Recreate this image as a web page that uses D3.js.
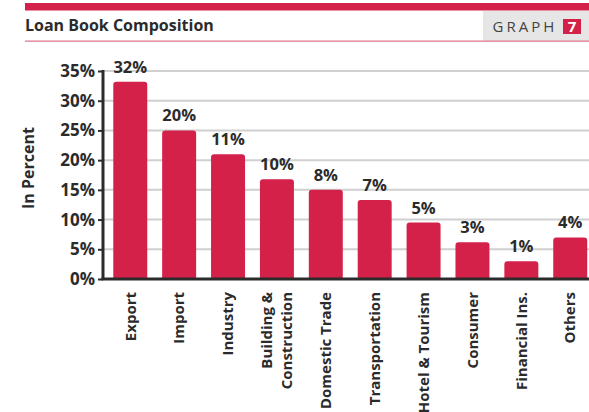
<!DOCTYPE html>
<html>
<head>
<meta charset="utf-8">
<script src="https://cdn.jsdelivr.net/npm/d3@7"></script>
<style>
  body { margin: 0; background: #fff; }
  svg { display: block; font-family: "Open Sans", "Noto Sans", sans-serif; }
</style>
</head>
<body>
<svg id="chart" width="589" height="412"></svg>
<script>
// ---- data ----
const categories = ["Export", "Import", "Industry", "Building & Construction", "Domestic Trade",
  "Transportation", "Hotel & Tourism", "Consumer", "Financial Ins.", "Others"];
const barValues = [33.2, 25.0, 21.0, 16.8, 15.0, 13.3, 9.5, 6.2, 3.0, 7.0];
const barLabels = ["32%", "20%", "11%", "10%", "8%", "7%", "5%", "3%", "1%", "4%"];
const yTicks = [0, 5, 10, 15, 20, 25, 30, 35];
const title = "Loan Book Composition";
const badgeText = "GRAPH";
const badgeNumber = "7";
const yAxisTitle = "In Percent";

// ---- layout ----
const svg = d3.select("#chart");
const red = "#d42149";
const textCol = "#2b2b2b";

// header
svg.append("rect").attr("x", 25).attr("y", 3).attr("width", 564).attr("height", 7.5).attr("fill", red);
svg.append("rect").attr("x", 483).attr("y", 11).attr("width", 106).attr("height", 30).attr("fill", "#e6e6e6");
svg.append("rect").attr("x", 25).attr("y", 40.5).attr("width", 564).attr("height", 1.3).attr("fill", "#e0798f");
svg.append("text").attr("x", 25).attr("y", 31).text(title)
  .attr("font-size", 16).attr("font-weight", 700).attr("fill", textCol);
svg.append("text").attr("x", 492.5).attr("y", 32).text(badgeText)
  .attr("font-size", 15).attr("letter-spacing", 3).attr("fill", "#444");
svg.append("rect").attr("x", 563).attr("y", 19).attr("width", 18).attr("height", 15).attr("fill", red);
svg.append("text").attr("x", 572).attr("y", 32).attr("text-anchor", "middle").text(badgeNumber)
  .attr("font-size", 15).attr("font-weight", 700).attr("fill", "#fff");

// scales
const y = d3.scaleLinear().domain([0, 35]).range([279, 71]);
const x = d3.scaleBand().domain(categories).range([103.5, 597]).paddingInner(0.305).paddingOuter(0.2);

// gridlines
svg.append("g").selectAll("line").data(yTicks.filter(d => d > 0)).join("line")
  .attr("x1", 103).attr("x2", 589)
  .attr("y1", d => y(d)).attr("y2", d => y(d))
  .attr("stroke", "#d0d0d0").attr("stroke-width", 2);

// bars with rounded top
svg.append("g").selectAll("path").data(barValues).join("path")
  .attr("d", (d, i) => {
    const x0 = x(categories[i]), w = x.bandwidth(), y0 = y(d), yb = y(0), r = 3;
    return `M${x0},${yb}V${y0 + r}Q${x0},${y0} ${x0 + r},${y0}H${x0 + w - r}Q${x0 + w},${y0} ${x0 + w},${y0 + r}V${yb}Z`;
  })
  .attr("fill", red);

// value labels
svg.append("g").selectAll("text").data(barValues).join("text")
  .attr("x", (d, i) => x(categories[i]) + x.bandwidth() / 2)
  .attr("y", d => y(d) - 9)
  .attr("text-anchor", "middle")
  .attr("font-size", 16.5).attr("font-weight", 700).attr("fill", textCol)
  .text((d, i) => barLabels[i]);

// y axis
const yAxis = d3.axisLeft(y).tickValues(yTicks).tickFormat(d => d + "%").tickSize(5).tickPadding(3);
const yg = svg.append("g").attr("transform", "translate(103,0)").call(yAxis);
yg.select(".domain").attr("stroke", textCol).attr("stroke-width", 3).attr("d", "M0,70V279");
yg.selectAll(".tick line").attr("stroke", textCol).attr("stroke-width", 2);
yg.selectAll(".tick text").attr("font-size", 17).attr("font-weight", 700).attr("fill", textCol)
  .attr("font-family", "\"Open Sans\", sans-serif");

// x axis baseline
svg.append("line").attr("x1", 101.5).attr("x2", 589).attr("y1", 279).attr("y2", 279)
  .attr("stroke", textCol).attr("stroke-width", 3);

// x labels (rotated)
const xl = svg.append("g").selectAll("text").data(categories).join("text")
  .attr("transform", d => `translate(${x(d) + x.bandwidth() / 2},292) rotate(-90)`)
  .attr("text-anchor", "end")
  .attr("font-size", 15).attr("font-weight", 700).attr("fill", textCol);
xl.each(function (d) {
  const t = d3.select(this);
  if (d === "Building & Construction") {
    t.append("tspan").attr("x", 0).attr("dy", "-0.3em").text("Building &");
    t.append("tspan").attr("x", 0).attr("dy", "1.3em").text("Construction");
  } else {
    t.append("tspan").attr("x", 0).attr("dy", "0.35em").text(d);
  }
});

// y axis title
svg.append("text").attr("transform", "translate(34,168) rotate(-90)")
  .attr("text-anchor", "middle").attr("font-size", 16).attr("font-weight", 700).attr("fill", textCol)
  .text(yAxisTitle);
</script>
</body>
</html>
